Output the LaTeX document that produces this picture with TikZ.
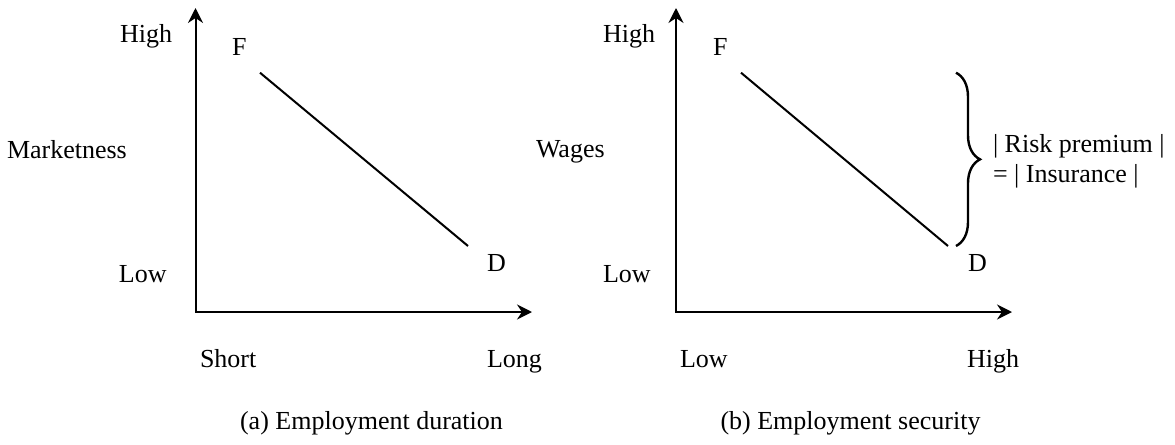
\documentclass[tikz,border=0pt]{standalone}
\usepackage{fontspec}
\setmainfont{Liberation Serif}
\usetikzlibrary{arrows.meta,decorations.pathreplacing}
\begin{document}
\begin{tikzpicture}[x=0.5pt,y=-0.5pt,
  lbl/.style={inner sep=0pt,outer sep=0pt,anchor=base west,font=\fontsize{13}{15}\selectfont},
  captionlbl/.style={inner sep=0pt,outer sep=0pt,anchor=base,font=\fontsize{13}{15}\selectfont},
  axis/.style={line width=1pt,{Stealth[length=7.5pt,width=7.5pt,inset=2.5pt]}-{Stealth[length=7.5pt,width=7.5pt,inset=2.5pt]}},
  curve/.style={line width=1pt},
  bracestyle/.style={line width=1.2pt,decorate,decoration={brace,amplitude=12pt}}]
\useasboundingbox (0,0) rectangle (1175,445);
% ---------- panel (a)
\coordinate (OA) at (195.5,312);
\coordinate (YA) at (195.5,8);
\coordinate (XA) at (532,312);
\draw[axis] (YA) |- (XA);
\coordinate (FA) at (260,72.7);
\coordinate (DA) at (468,246);
\draw[curve] (FA) -- (DA);
\node[lbl] (highA) at (120,42) {High};
\node[lbl] (fA) at (232,55) {F};
\node[lbl] (mkt) at (7,158) {Marketness};
\node[lbl] (lowA) at (119,282) {Low};
\node[lbl] (dA) at (487,271) {D};
\node[lbl] (short) at (200,367) {Short};
\node[lbl] (long) at (487,367) {Long};
\node[captionlbl] (capA) at (371.5,429) {(a) Employment duration};
% ---------- panel (b)
\coordinate (OB) at (676,312);
\coordinate (YB) at (676,8);
\coordinate (XB) at (1012,312);
\draw[axis] (YB) |- (XB);
\coordinate (FB) at (741,72.7);
\coordinate (DB) at (948,246);
\draw[curve] (FB) -- (DB);
\coordinate (BT) at (956,72.7);
\coordinate (BB) at (956,246);
\draw[bracestyle] (BT) -- (BB);
\node[lbl] (highB) at (603,42) {High};
\node[lbl] (fB) at (713,55) {F};
\node[lbl] (wages) at (536,157) {Wages};
\node[lbl] (lowB) at (603,282) {Low};
\node[lbl] (dB) at (968,271) {D};
\node[lbl] (lowX) at (680,367) {Low};
\node[lbl] (highX) at (967,367) {High};
\node[lbl] (risk) at (993,152) {| Risk premium |};
\node[lbl] (ins) at (993,182) {= | Insurance |};
\node[captionlbl] (capB) at (850.5,429) {(b) Employment security};
\end{tikzpicture}
\end{document}
